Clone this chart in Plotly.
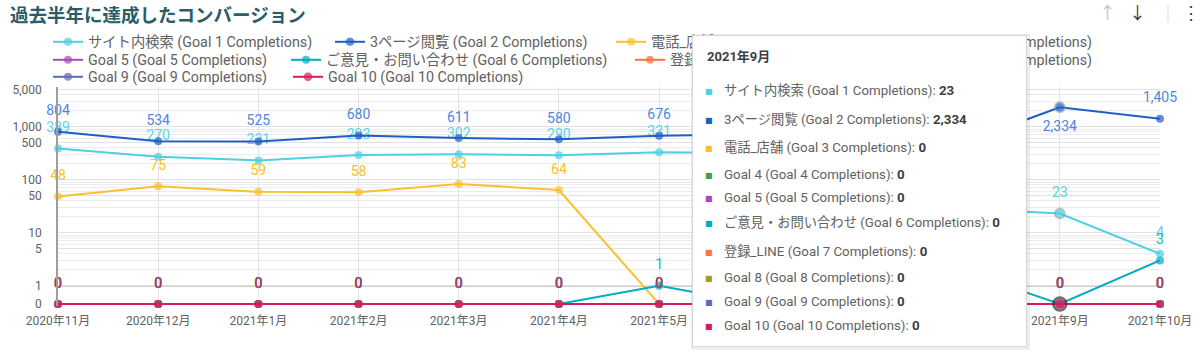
import plotly.graph_objects as go

# ---------------- data ----------------
months = ["2020年11月", "2020年12月", "2021年1月", "2021年2月", "2021年3月", "2021年4月",
          "2021年5月", "2021年6月", "2021年7月", "2021年8月", "2021年9月", "2021年10月"]

goal_names = [
    "サイト内検索 (Goal 1 Completions)",
    "3ページ閲覧 (Goal 2 Completions)",
    "電話_店舗 (Goal 3 Completions)",
    "Goal 4 (Goal 4 Completions)",
    "Goal 5 (Goal 5 Completions)",
    "ご意見・お問い合わせ (Goal 6 Completions)",
    "登録_LINE (Goal 7 Completions)",
    "Goal 8 (Goal 8 Completions)",
    "Goal 9 (Goal 9 Completions)",
    "Goal 10 (Goal 10 Completions)",
]

goal1 = [389, 270, 231, 293, 302, 290, 331, 318, 120, 29, 23, 4]
goal2 = [804, 534, 525, 680, 611, 580, 676, 720, 610, 470, 2334, 1405]
goal3 = [48, 75, 59, 58, 83, 64, 0, 0, 0, 0, 0, 0]
goal4 = [0, 0, 0, 0, 0, 0, 0, 0, 0, 0, 0, 0]
goal5 = [0, 0, 0, 0, 0, 0, 0, 0, 0, 0, 0, 0]
goal6 = [0, 0, 0, 0, 0, 0, 1, 0, 0, 2, 0, 3]
goal7 = [0, 0, 0, 0, 0, 0, 0, 0, 0, 0, 0, 0]
goal8 = [0, 0, 0, 0, 0, 0, 0, 0, 0, 0, 0, 0]
goal9 = [0, 0, 0, 0, 0, 0, 0, 0, 0, 0, 0, 0]
goal10 = [0, 0, 0, 0, 0, 0, 0, 0, 0, 0, 0, 0]

y_ticks = [0, 1, 5, 10, 50, 100, 500, 1000, 5000]
hover_month = "2021年9月"

title_text = "過去半年に達成したコンバージョン"

# ---------------- style ----------------
series = [goal1, goal2, goal3, goal4, goal5, goal6, goal7, goal8, goal9, goal10]
line_colors = ["#4dd0e1", "#1e5fc6", "#fbc02d", "#43a047", "#ab47bc",
               "#00acc1", "#ff7043", "#9e9d24", "#5c6bc0", "#d81b60"]
label_colors = ["#5dd3e5", "#4f87da", "#fbbf24", "#43a047", "#ab47bc",
                "#20b6ca", "#ff7043", "#9e9d24", "#5c6bc0", "#ad3a69"]

FONT = "Roboto, 'Noto Sans CJK JP', sans-serif"
W, H = 1200, 355
# plot area in page pixels: x 58..1160, y 87..306
ML, MR, MT, MB = 58, 40, 87, 49
PW, PH = W - ML - MR, H - MT - MB
LOG_TOP = 3.749
LOG_BOT = LOG_TOP - PH / 53.0
ZERO_PLOT = 10 ** -0.345   # where the value 0 sits on the log axis

# legend item placement (text start x, row centre y) in pixels
legend_pos = [(90, 42), (372, 42), (653, 42), (915, 42),
              (90, 60), (328, 60), (672, 60), (915, 60),
              (90, 77), (330, 77)]


def px(x):
    return (x - ML) / PW


def py(y):
    return (H - MB - y) / PH


def to_plot(v):
    return v if v > 0 else ZERO_PLOT


hi = months.index(hover_month)

fig = go.Figure()
legends = {}
for i, (name, vals) in enumerate(zip(goal_names, series)):
    sizes = [8] * len(months)
    lw = [0] * len(months)
    lc = [line_colors[i]] * len(months)
    if vals[hi] > 0:
        sizes[hi] = 10
        lw[hi] = 2
        lc[hi] = "rgba(150,150,150,0.7)"
    elif i == len(series) - 1:
        sizes[hi] = 13
        lw[hi] = 2.5
        lc[hi] = "#333333"
    positions = ["top center"] * len(months)
    if i == 1:
        positions[hi] = "bottom center"
    lg = "legend" if i == 0 else f"legend{i + 1}"
    yv = [to_plot(v) for v in vals]
    fig.add_trace(go.Scatter(
        x=months, y=yv, name=name, legend=lg, legendgroup=name,
        mode="lines+markers",
        line=dict(color=line_colors[i], width=2),
        marker=dict(color=line_colors[i], size=sizes, line=dict(width=lw, color=lc)),
        cliponaxis=False,
    ))
    # data labels (transparent spacer marker sets the label offset)
    fig.add_trace(go.Scatter(
        x=months, y=yv, name=name, legend=lg, legendgroup=name, showlegend=False,
        mode="markers+text",
        text=[f"{v:,}" for v in vals], textposition=positions,
        textfont=dict(color=label_colors[i], size=14, family=FONT),
        marker=dict(color="rgba(0,0,0,0)", size=19),
        cliponaxis=False,
    ))
    tx, ty = legend_pos[i]
    legends[lg] = dict(orientation="h", x=px(tx - 42), y=py(ty), xanchor="left", yanchor="middle",
                       font=dict(size=14.3, color="#616161", family=FONT),
                       bgcolor="rgba(0,0,0,0)", itemwidth=30)

minor_vals = [m * 10 ** e for e in range(0, 4) for m in range(1, 10)]

fig.update_layout(
    width=W, height=H, autosize=False,
    margin=dict(l=ML, r=MR, t=MT, b=MB, pad=0, autoexpand=False),
    paper_bgcolor="white", plot_bgcolor="white",
    font=dict(family=FONT, color="#616161", size=12),
    showlegend=True,
    xaxis=dict(type="category", range=[0, len(months) - 1], showgrid=True,
               gridcolor="#e3e3e3", gridwidth=1, showline=False, zeroline=False,
               ticks="", tickfont=dict(size=12, color="#616161"), ticklabelstandoff=6),
    yaxis=dict(type="log", range=[LOG_BOT, LOG_TOP], tickmode="array",
               tickvals=[to_plot(v) for v in y_ticks],
               ticktext=[f"{v:,}" for v in y_ticks],
               showgrid=True, gridcolor="#e2e2e2", gridwidth=1,
               minor=dict(tickmode="array", tickvals=minor_vals, showgrid=True,
                          gridcolor="#ececec", gridwidth=1, ticks=""),
               showline=True, linecolor="#9e9e9e", linewidth=1.5,
               zeroline=False, ticks="", ticklabelstandoff=12,
               tickfont=dict(size=12, color="#616161")),
    hovermode=False,
)
fig.update_layout(**legends)

# darker reference line at value 1
fig.add_shape(type="line", xref="paper", yref="y", x0=0, x1=1, y0=1, y1=1,
              line=dict(color="#a0a0a0", width=1.5), layer="below")

ann = []
# title
ann.append(dict(text=f"<b>{title_text}</b>", x=px(8), y=py(14), xref="paper", yref="paper",
                xanchor="left", yanchor="middle", showarrow=False,
                font=dict(size=18.5, color="#2b5c68", family="'Noto Sans CJK JP', Roboto, sans-serif")))
# top-right icons
ann.append(dict(text="↑", x=px(1107), y=py(13), xref="paper", yref="paper", showarrow=False,
                xanchor="center", yanchor="middle", font=dict(size=17, color="#c4c4c4")))
ann.append(dict(text="↓", x=px(1137), y=py(13), xref="paper", yref="paper", showarrow=False,
                xanchor="center", yanchor="middle", font=dict(size=17, color="#3c3c3c")))
ann.append(dict(text="⋮", x=px(1191), y=py(13), xref="paper", yref="paper", showarrow=False,
                xanchor="center", yanchor="middle", font=dict(size=18, color="#3c3c3c")))
fig.add_shape(type="line", xref="paper", yref="paper", x0=px(1168), x1=px(1168),
              y0=py(5), y1=py(22), line=dict(color="#dcdcdc", width=1))

# tooltip box (shadow + body)
TX0, TX1, TY0, TY1 = 692, 1027, 35, 347
ann.append(dict(text=" ", x=px(TX0 - 1), y=py(TY0 - 1), xref="paper", yref="paper",
                xanchor="left", yanchor="top", showarrow=False,
                width=TX1 - TX0 + 4, height=TY1 - TY0 + 4, bgcolor="rgba(0,0,0,0.07)",
                borderpad=0, borderwidth=0))
ann.append(dict(text=" ", x=px(TX0), y=py(TY0), xref="paper", yref="paper",
                xanchor="left", yanchor="top", showarrow=False,
                width=TX1 - TX0 - 2, height=TY1 - TY0 - 2, bgcolor="white",
                bordercolor="#d6d6d6", borderwidth=1, borderpad=0))
ann.append(dict(text=f"<b>{hover_month}</b>", x=px(705), y=py(57), xref="paper", yref="paper",
                xanchor="left", yanchor="middle", showarrow=False,
                font=dict(size=13, color="#3c4043", family=FONT)))
row_y = [90.7, 119, 147.3, 174, 197.3, 222.3, 251, 277.3, 301.7, 325.7]
for i, (name, vals) in enumerate(zip(goal_names, series)):
    ann.append(dict(text="■", x=px(708.5), y=py(row_y[i] + 1), xref="paper", yref="paper",
                    xanchor="center", yanchor="middle", showarrow=False,
                    font=dict(size=8, color=line_colors[i], family="DejaVu Sans")))
    ann.append(dict(text=f"{name}: <span style='color:#3c4043'><b>{vals[hi]:,}</b></span>",
                    x=px(722), y=py(row_y[i]), xref="paper", yref="paper",
                    xanchor="left", yanchor="middle", showarrow=False,
                    font=dict(size=13.3, color="#616161", family=FONT)))

fig.update_layout(annotations=ann)
fig.write_html("out.html", config={"displayModeBar": False},
               post_script="document.body.style.margin='0';document.body.style.overflow='hidden';")
